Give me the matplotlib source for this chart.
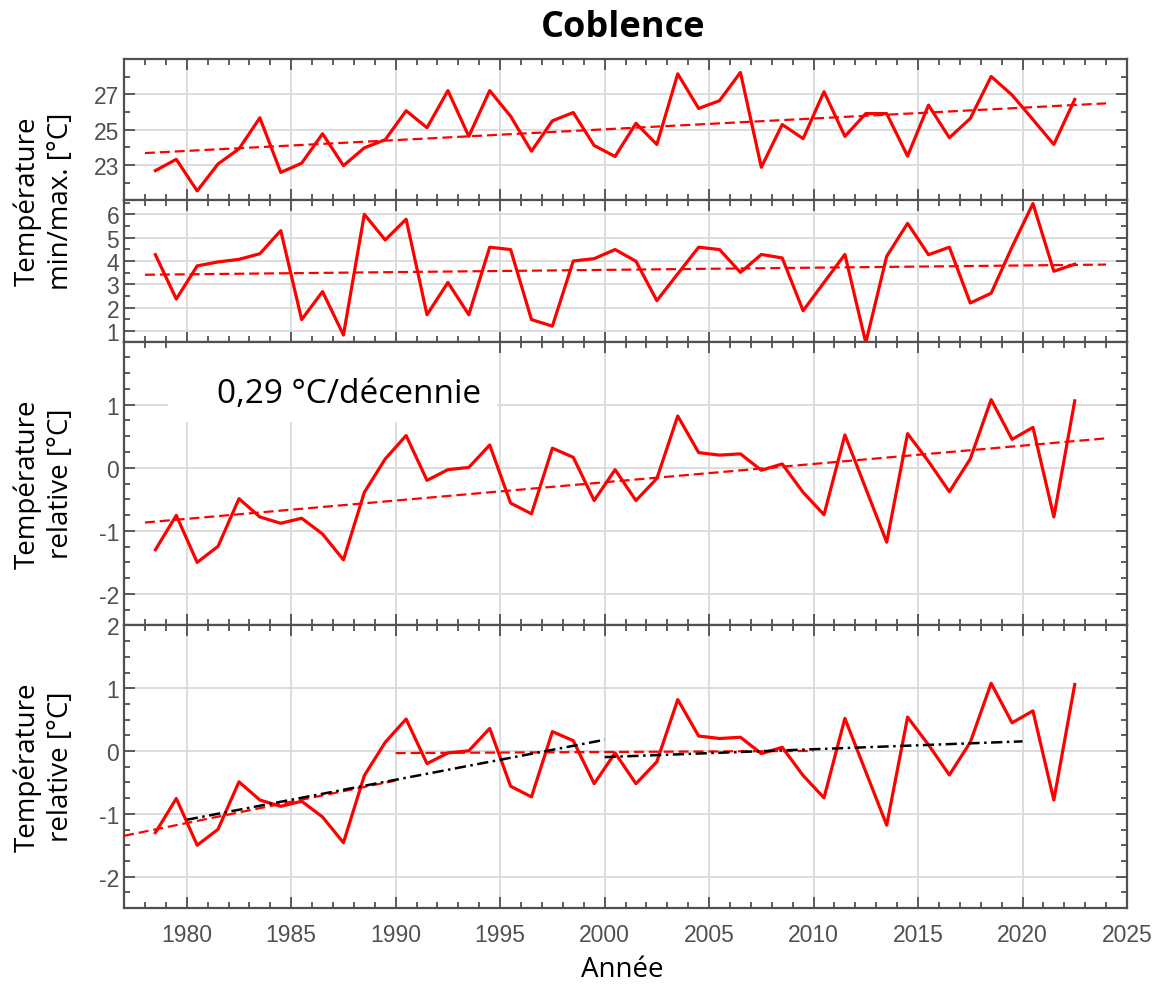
import numpy as np
import matplotlib.pyplot as plt
from matplotlib.patches import Rectangle
from matplotlib.ticker import MultipleLocator, FixedLocator

plt.rcParams['font.family'] = 'Liberation Sans'
plt.rcParams['axes.unicode_minus'] = False

# Annual values, plotted at mid-year
years = np.arange(1978, 2023) + 0.5

tmax_summer = [22.68, 23.32, 21.53, 23.06, 23.91, 25.67, 22.58, 23.10, 24.77, 22.96,
               23.97, 24.43, 26.07, 25.11, 27.21, 24.62, 27.21, 25.76, 23.78, 25.50,
               25.97, 24.10, 23.48, 25.36, 24.16, 28.16, 26.20, 26.64, 28.24, 22.87,
               25.29, 24.49, 27.15, 24.62, 25.91, 25.91, 23.50, 26.39, 24.54, 25.63,
               28.01, 26.96, 25.57, 24.16, 26.71]

tmin_winter = [4.27, 2.37, 3.79, 3.96, 4.07, 4.31, 5.30, 1.49, 2.69, 0.83,
               6.00, 4.90, 5.79, 1.70, 3.08, 1.70, 4.59, 4.49, 1.49, 1.21,
               4.00, 4.10, 4.49, 3.99, 2.30, 3.45, 4.59, 4.49, 3.51, 4.28,
               4.13, 1.87, 3.08, 4.28, 0.50, 4.20, 5.61, 4.27, 4.59, 2.20,
               2.62, 4.60, 6.46, 3.56, 3.86]

t_anomaly = [-1.30, -0.755, -1.50, -1.245, -0.49, -0.78, -0.88, -0.80, -1.05, -1.46,
             -0.39, 0.14, 0.51, -0.20, -0.03, 0.005, 0.36, -0.56, -0.73, 0.31,
             0.165, -0.52, -0.03, -0.52, -0.17, 0.82, 0.24, 0.20, 0.22, -0.04,
             0.06, -0.39, -0.745, 0.52, -0.33, -1.18, 0.54, 0.10, -0.38, 0.14,
             1.08, 0.45, 0.64, -0.78, 1.06]

trend_span = (1978, 2024)
rate_per_decade = 0.29          # °C / decade for the anomaly series

# piecewise fits on the anomaly series: (fit window start, end)
red_windows = [(1977, 1990), (1990, 2010)]
black_windows = [(1980, 2000), (2000, 2020)]

RED = '#ff0000'
AXC = '#505050'
LABEL_FONT = 'Open Sans'


def fit_line(x, y, x0, x1):
    x = np.asarray(x)
    y = np.asarray(y)
    m = (x >= x0) & (x <= x1)
    k, b = np.polyfit(x[m], y[m], 1)
    xs = np.array([x0, x1])
    return xs, k * xs + b


def style_axis(ax):
    ax.set_xlim(1977, 2025)
    ax.xaxis.set_major_locator(MultipleLocator(5))
    ax.xaxis.set_minor_locator(MultipleLocator(1))
    ax.tick_params(which='both', direction='in', top=True, right=True,
                   color=AXC, labelcolor=AXC, labelsize=16.5, width=1.3)
    ax.tick_params(which='major', length=8)
    ax.tick_params(which='minor', length=4.5)
    ax.grid(True, which='major', color='#dadada', linewidth=1.3)
    ax.set_axisbelow(True)
    for s in ax.spines.values():
        s.set_color(AXC)
        s.set_linewidth(1.6)


fig = plt.figure(figsize=(11.67, 9.87), dpi=100)
gs = fig.add_gridspec(4, 1, height_ratios=[1, 1, 2.01, 2.0], hspace=0,
                      left=0.1063, right=0.9657, top=0.9392, bottom=0.079)
axes = [fig.add_subplot(gs[i]) for i in range(4)]
for ax in axes[1:]:
    ax.sharex(axes[0])

dash = dict(color=RED, linewidth=1.6, dashes=(4.5, 2.2))
solid = dict(color=RED, linewidth=2.3, zorder=3)
tx = np.array(trend_span)

# 1) summer maxima
ax = axes[0]
ax.plot(years, tmax_summer, **solid)
xs, ys = fit_line(years, tmax_summer, 1900, 2100)
k = (ys[1] - ys[0]) / (xs[1] - xs[0])
ax.plot(tx, ys[0] + k * (tx - xs[0]), **dash)
ax.set_ylim(21, 29)
ax.yaxis.set_major_locator(FixedLocator([23, 25, 27]))
ax.yaxis.set_minor_locator(FixedLocator([22, 24, 26, 28]))

# 2) winter minima
ax = axes[1]
ax.plot(years, tmin_winter, **solid)
xs, ys = fit_line(years, tmin_winter, 1900, 2100)
k = (ys[1] - ys[0]) / (xs[1] - xs[0])
ax.plot(tx, ys[0] + k * (tx - xs[0]), **dash)
ax.set_ylim(0.55, 6.6)
ax.yaxis.set_major_locator(MultipleLocator(1))
ax.yaxis.set_minor_locator(MultipleLocator(0.5))

# 3) anomaly with overall trend
ax = axes[2]
ax.plot(years, t_anomaly, **solid)
slope = rate_per_decade / 10
xm, ym = np.mean(years), np.mean(t_anomaly)
ax.plot(tx, ym + slope * (tx - xm), **dash)
ax.set_ylim(-2.5, 2.0)
ax.yaxis.set_major_locator(FixedLocator([-2, -1, 0, 1]))
ax.yaxis.set_minor_locator(MultipleLocator(0.25))
# white patch behind the rate annotation (hides the grid there)
ax.add_patch(Rectangle((0.044, 0.715), 0.328, 0.285, transform=ax.transAxes,
                       facecolor='white', edgecolor='none', zorder=1.5))
rate_txt = f"{rate_per_decade:.2f}".replace('.', ',') + " °C/décennie"
ax.text(1987.75, 1.17, rate_txt, ha='center', va='center', fontsize=24,
        family=LABEL_FONT, color='black', zorder=2)

# 4) anomaly with piecewise trends
ax = axes[3]
ax.plot(years, t_anomaly, **solid)
for x0, x1 in red_windows:
    xs, ys = fit_line(years, t_anomaly, x0, x1)
    ax.plot(xs, ys, zorder=4, **dash)
for x0, x1 in black_windows:
    xs, ys = fit_line(years, t_anomaly, x0, x1)
    ax.plot(xs, ys, color='black', linewidth=1.8, dashes=(4.5, 1.8, 1, 1.8), zorder=5)
ax.set_ylim(-2.5, 2.0)
ax.yaxis.set_major_locator(MultipleLocator(1))
ax.yaxis.set_minor_locator(MultipleLocator(0.25))

for i, ax in enumerate(axes):
    style_axis(ax)
    if i < 3:
        ax.tick_params(labelbottom=False)
axes[3].tick_params(axis='x', pad=11)

lab = dict(fontsize=20, family=LABEL_FONT, rotation=90, ha='center',
           va='center', multialignment='center', linespacing=1.25)
fig.text(0.038, 1 - 201 / 987, "Température\nmin/max. [°C]", **lab)
fig.text(0.038, 1 - 484 / 987, "Température\nrelative [°C]", **lab)
fig.text(0.038, 1 - 767 / 987, "Température\nrelative [°C]", **lab)

fig.text(0.534, 0.972, "Coblence", ha='center', va='center', fontsize=26,
         fontweight='bold', family=LABEL_FONT)
fig.text(0.533, 1 - 970 / 987, "Année", ha='center', va='center', fontsize=20,
         family=LABEL_FONT)

fig.savefig('out.png', dpi=100, facecolor='white')
